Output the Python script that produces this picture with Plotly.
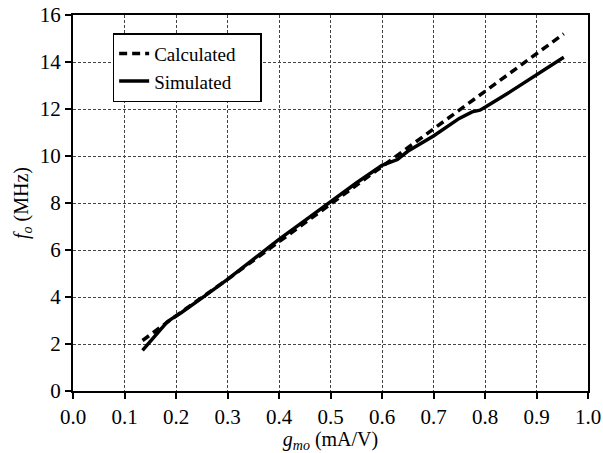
import plotly.graph_objects as go

# Data
calc_x = [0.135, 0.2, 0.3, 0.4, 0.5, 0.6, 0.7, 0.8, 0.9, 0.953]
calc_y = [2.15, 3.2, 4.75, 6.35, 7.95, 9.55, 11.15, 12.78, 14.36, 15.2]

sim_x = [0.135, 0.16, 0.183, 0.195, 0.21, 0.25, 0.3, 0.35, 0.4, 0.45, 0.5, 0.55,
         0.6, 0.63, 0.65, 0.7, 0.75, 0.775, 0.79, 0.8, 0.85, 0.9, 0.953]
sim_y = [1.73, 2.35, 2.94, 3.12, 3.33, 3.95, 4.75, 5.6, 6.45, 7.25, 8.05, 8.85,
         9.6, 9.85, 10.2, 10.85, 11.6, 11.88, 11.95, 12.07, 12.75, 13.46, 14.2]

x_ticks = [0.0, 0.1, 0.2, 0.3, 0.4, 0.5, 0.6, 0.7, 0.8, 0.9, 1.0]
y_ticks = [0, 2, 4, 6, 8, 10, 12, 14, 16]

FONT = "Liberation Serif"
PAD = "\u00a0\u00a0\u00a0\u00a0"

fig = go.Figure()
fig.add_trace(go.Scatter(x=calc_x, y=calc_y, mode="lines", name="Calculated" + PAD,
                         line=dict(color="black", width=3.5, dash="8px,5px")))
fig.add_trace(go.Scatter(x=sim_x, y=sim_y, mode="lines", name="Simulated" + PAD,
                         line=dict(color="black", width=3.5)))

axis_common = dict(showline=True, linecolor="black", linewidth=2, mirror=True,
                   ticks="outside", ticklen=6, tickwidth=2, tickcolor="black",
                   showgrid=True, gridcolor="#444", gridwidth=1, griddash="3px,2px",
                   zeroline=False, automargin=False,
                   tickfont=dict(family=FONT, size=21, color="black"))

fig.update_xaxes(range=[0, 1], tickvals=x_ticks,
                 ticktext=[f"{v:.1f}" for v in x_ticks],
                 title=dict(text="<i>g</i><sub><i>mo</i></sub> (mA/V)",
                            font=dict(family=FONT, size=20, color="black"), standoff=2),
                 **axis_common)
fig.update_yaxes(range=[0, 16], tickvals=y_ticks,
                 ticktext=[str(v) for v in y_ticks],
                 title=dict(text="<i>f</i><sub><i>o</i></sub> (MHz)",
                            font=dict(family=FONT, size=20, color="black"), standoff=6),
                 **axis_common)

fig.update_layout(
    width=603, height=453,
    margin=dict(l=73, r=15, t=15, b=62),
    plot_bgcolor="white", paper_bgcolor="white",
    font=dict(family=FONT, color="black"),
    legend=dict(x=0.077, y=0.952, xanchor="left", yanchor="top",
                bgcolor="white", bordercolor="black", borderwidth=1.5,
                font=dict(family=FONT, size=19, color="black"),
                tracegroupgap=0),
    showlegend=True,
)

fig.write_html("out.html", config={"displayModeBar": False},
               post_script="document.body.style.margin='0';")
